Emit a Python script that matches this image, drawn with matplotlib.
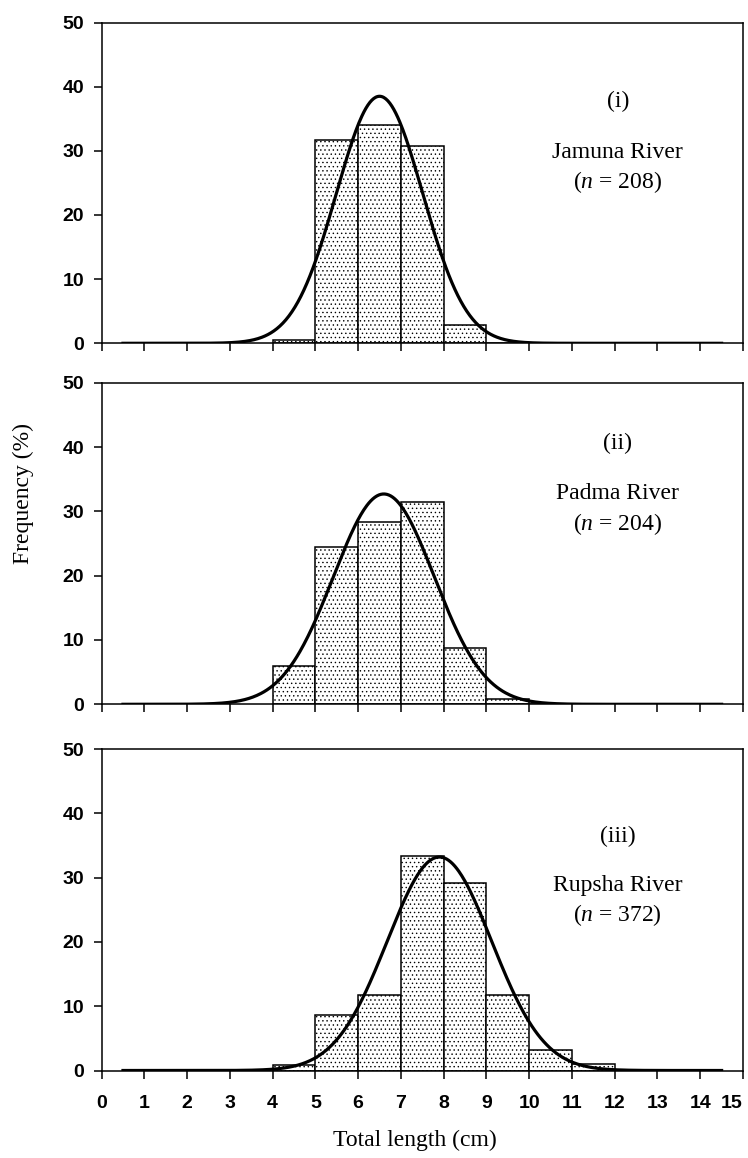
import numpy as np
import matplotlib
matplotlib.use("Agg")
import matplotlib.pyplot as plt

# histogram bins (left edges, 1 cm wide) and frequency (%) per river
bin_left = [4, 5, 6, 7, 8, 9, 10, 11]
jamuna = [0.5, 31.7, 34.1, 30.8, 2.9, 0, 0, 0]
padma = [5.9, 24.4, 28.4, 31.4, 8.8, 0.9, 0, 0]
rupsha = [0.9, 8.6, 11.8, 33.4, 29.1, 11.8, 3.2, 1.0]

# fitted normal curves (mean, sd, peak height)
fit_mu = [6.50, 6.60, 7.90]
fit_sd = [1.01, 1.18, 1.22]
fit_peak = [38.5, 32.7, 33.2]

panel_tags = ["(i)", "(ii)", "(iii)"]
rivers = ["Jamuna River", "Padma River", "Rupsha River"]
sizes = [208, 204, 372]
tag_y = [37.7, 40.6, 36.4]
name_y = [29.7, 32.8, 28.7]
n_y = [25.2, 28.1, 24.2]

plt.rcParams["hatch.linewidth"] = 0.5
plt.rcParams["mathtext.fontset"] = "custom"
plt.rcParams["mathtext.rm"] = "Liberation Serif"
plt.rcParams["mathtext.it"] = "Liberation Serif:italic"

W, H = 748, 1158
fig = plt.figure(figsize=(W / 100, H / 100), dpi=100)

# axes boxes in pixels: (top, zero line)
boxes = [(22.5, 343.3), (382.7, 704.3), (749.0, 1070.5)]
left_px, right_px = 101.6, 743.0

series = [jamuna, padma, rupsha]
xc = np.linspace(0.5, 14.5, 600)
for i, (top, bot) in enumerate(boxes):
    ax = fig.add_axes([left_px / W, 1 - bot / H, (right_px - left_px) / W, (bot - top) / H])
    ax.bar(bin_left, series[i], width=1.0, align="edge", color="white",
           edgecolor="black", linewidth=1.1, hatch="....", zorder=2)
    yc = fit_peak[i] * np.exp(-0.5 * ((xc - fit_mu[i]) / fit_sd[i]) ** 2)
    ax.plot(xc, yc, color="black", linewidth=2.3, zorder=3)
    ax.set_xlim(0, 15)
    ax.set_ylim(0, 50)
    ax.set_xticks(range(0, 16))
    ax.set_yticks(range(0, 51, 10))
    ax.tick_params(direction="out", length=5.5, width=1.1)
    ax.tick_params(axis="y", pad=7)
    for sp in ax.spines.values():
        sp.set_linewidth(1.1)
    for lab in ax.get_yticklabels():
        lab.set_fontfamily("Liberation Sans")
        lab.set_fontweight("bold")
        lab.set_fontsize(14)
    if i < 2:
        ax.set_xticklabels([])
    else:
        ax.tick_params(axis="x", pad=12)
        xlabs = ax.get_xticklabels()
        for lab in xlabs:
            lab.set_fontfamily("Liberation Sans")
            lab.set_fontweight("bold")
            lab.set_fontsize(14)
        xlabs[-1].set_horizontalalignment("right")
    tx = 12.07
    ax.text(tx, tag_y[i], panel_tags[i], ha="center", va="center",
            family="Liberation Serif", fontsize=17)
    ax.text(tx, name_y[i], rivers[i], ha="center", va="center",
            family="Liberation Serif", fontsize=17)
    ax.text(tx, n_y[i], f"($n$ = {sizes[i]})", ha="center", va="center",
            family="Liberation Serif", fontsize=17)

fig.text(23 / W, 1 - 494 / H, "Frequency (%)", rotation=90, ha="center", va="center",
         family="Liberation Serif", fontsize=17)
fig.text(415 / W, 1 - 1140 / H, "Total length (cm)", ha="center", va="center",
         family="Liberation Serif", fontsize=17)

fig.savefig("out.png", dpi=100)
